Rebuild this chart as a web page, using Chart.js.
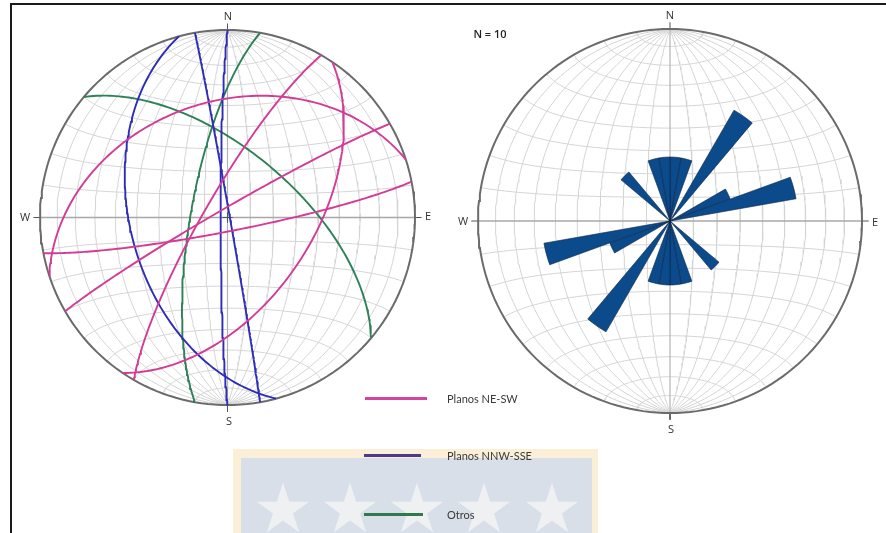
<!DOCTYPE html>
<html>
<head>
<meta charset="utf-8">
<script src="https://cdn.jsdelivr.net/npm/chart.js@4.4.0/dist/chart.umd.min.js"></script>
<style>
    body { margin: 0; width: 886px; height: 533px; overflow: hidden; background: #ffffff; position: relative; font-family: "Open Sans", "DejaVu Sans", sans-serif; }
    canvas, .abs { position: absolute; }
    #marco { left: 10px; top: 3px; width: 900px; height: 560px; border: 2px solid #1a1a1a; }
    #sello { left: 233px; top: 449px; width: 365px; height: 90px; background: #fcefd8; }
    #selloInt { left: 8px; top: 9px; width: 351px; height: 90px; background: #d8dfe8; }
    .estrella { top: 17px; font-size: 68px; line-height: 68px; color: #eef0f2; transform: translateX(-50%); font-family: "DejaVu Sans"; }
    .etq { font-size: 11px; color: #333; transform: translate(-50%, -50%); }
    .leyLinea { height: 3px; }
    .leyTexto { font-family: Lato, "Open Sans", sans-serif; font-size: 11px; color: #3a3a3a; transform: translateY(-50%); }
</style>
</head>
<body>
<div id="marco" class="abs"></div>

<div id="sello" class="abs">
    <div id="selloInt" class="abs">
        <span class="abs estrella" style="left:42px">★</span>
        <span class="abs estrella" style="left:109px">★</span>
        <span class="abs estrella" style="left:176px">★</span>
        <span class="abs estrella" style="left:243px">★</span>
        <span class="abs estrella" style="left:311px">★</span>
    </div>
</div>

<canvas id="redPlanos" width="399" height="399" style="left:28px; top:18px"></canvas>
<canvas id="redRosa" width="408" height="408" style="left:466px; top:17px"></canvas>
<canvas id="rosa" width="384" height="384" style="left:478px; top:29px"></canvas>

<span class="abs etq" style="left:228px; top:15px">N</span>
<span class="abs etq" style="left:229px; top:420px">S</span>
<span class="abs etq" style="left:25px; top:216px">W</span>
<span class="abs etq" style="left:428px; top:215px">E</span>

<span class="abs etq" style="left:670px; top:14px">N</span>
<span class="abs etq" style="left:671px; top:428px">S</span>
<span class="abs etq" style="left:463px; top:220px">W</span>
<span class="abs etq" style="left:875px; top:221px">E</span>
<span class="abs etq" style="left:490px; top:33px; font-size:11px; font-weight:600; color:#222">N = 10</span>

<div class="abs leyLinea" style="left:365px; top:397px; width:62px; background:#d4449e"></div>
<span class="abs leyTexto" style="left:447px; top:398px">Planos NE-SW</span>
<div class="abs leyLinea" style="left:364px; top:454px; width:57px; background:#4b3b8c"></div>
<span class="abs leyTexto" style="left:447px; top:455px">Planos NNW-SSE</span>
<div class="abs leyLinea" style="left:364px; top:513px; width:59px; background:#2f7a4c"></div>
<span class="abs leyTexto" style="left:447px; top:514px">Otros</span>

<script>
// Planos medidos (rumbo con regla de la mano derecha, buzamiento)
let rumbos = [252, 210, 79, 240, 34, 180, 350, 165, 190, 310];
let buzamientos = [38, 80, 84, 86, 53, 87, 89, 47, 74, 61];
let familias = ['NE-SW', 'NE-SW', 'NE-SW', 'NE-SW', 'NE-SW', 'NNW-SSE', 'NNW-SSE', 'NNW-SSE', 'Otros', 'Otros'];

// Diagrama de rosas: conteo por intervalo de 10° (0-10, 10-20, ... 350-360)
let conteoRosa = [1, 1, 0, 2, 0, 0, 1, 2, 0, 0, 0, 0, 0, 1, 0, 0, 1, 1,
                  1, 1, 0, 2, 0, 0, 1, 2, 0, 0, 0, 0, 0, 1, 0, 0, 1, 1];
let maxRosa = 3;

let coloresFamilia = { 'NE-SW': '#d23c96', 'NNW-SSE': '#2d2db8', 'Otros': '#2e8058' };

// proyección de igual área (Schmidt), hemisferio inferior, primitivo de radio 1
function proyectar(e, n, d) {
    if (d < 0) { e = -e; n = -n; d = -d; }
    let k = Math.sqrt(1 / (1 + d));
    return { x: e * k, y: n * k };
}

function circuloMayor(rumbo, buz) {
    let s = rumbo * Math.PI / 180;
    let b = buz * Math.PI / 180;
    let dd = s + Math.PI / 2;
    let puntos = [];
    for (let i = 0; i <= 120; i++) {
        let a = Math.PI * i / 120;
        let e = Math.cos(a) * Math.sin(s) + Math.sin(a) * Math.cos(b) * Math.sin(dd);
        let n = Math.cos(a) * Math.cos(s) + Math.sin(a) * Math.cos(b) * Math.cos(dd);
        let d = Math.sin(a) * Math.sin(b);
        puntos.push(proyectar(e, n, d));
    }
    return puntos;
}

// círculo menor alrededor del eje N-S
function circuloMenor(beta) {
    let b = beta * Math.PI / 180;
    let puntos = [];
    for (let i = 0; i <= 120; i++) {
        let f = Math.PI * i / 120;
        puntos.push(proyectar(Math.sin(b) * Math.cos(f), Math.cos(b), Math.sin(b) * Math.sin(f)));
    }
    return puntos;
}

function linea(puntos, color, ancho, orden) {
    return { data: puntos, showLine: true, borderColor: color, borderWidth: ancho, pointRadius: 0, fill: false, order: orden, clip: false };
}

function datosRed() {
    let conjuntos = [];
    for (let g = 10; g <= 80; g += 10) {
        conjuntos.push(linea(circuloMayor(0, g), '#d4d4d4', 1, 5));
        conjuntos.push(linea(circuloMayor(180, g), '#d4d4d4', 1, 5));
    }
    for (let g = 10; g <= 170; g += 10) {
        if (g != 90) conjuntos.push(linea(circuloMenor(g), '#d4d4d4', 1, 5));
    }
    // diámetros N-S y E-W
    conjuntos.push(linea(circuloMayor(0, 90), '#b4b4b4', 1.2, 4));
    conjuntos.push(linea(circuloMenor(90), '#a8a8a8', 1.4, 4));
    // primitivo
    let primitivo = [];
    for (let i = 0; i <= 360; i += 2) {
        primitivo.push({ x: Math.sin(i * Math.PI / 180), y: Math.cos(i * Math.PI / 180) });
    }
    conjuntos.push(linea(primitivo, '#6b6b6b', 2, 3));
    // marcas N, E, S, W
    conjuntos.push(linea([{ x: 0, y: 1 }, { x: 0, y: 1.035 }], '#555', 1, 3));
    conjuntos.push(linea([{ x: 0, y: -1 }, { x: 0, y: -1.035 }], '#555', 1, 3));
    conjuntos.push(linea([{ x: 1, y: 0 }, { x: 1.035, y: 0 }], '#555', 1, 3));
    conjuntos.push(linea([{ x: -1, y: 0 }, { x: -1.035, y: 0 }], '#555', 1, 3));
    return conjuntos;
}

function crearRed(idCanvas, radioPx, margenPx, conjuntos) {
    let lim = (radioPx + margenPx) / radioPx;
    return new Chart(document.getElementById(idCanvas), {
        type: 'scatter',
        data: { datasets: conjuntos },
        options: {
            responsive: false,
            animation: false,
            layout: { padding: 0 },
            scales: {
                x: { display: false, min: -lim, max: lim },
                y: { display: false, min: -lim, max: lim }
            },
            plugins: { legend: { display: false }, tooltip: { enabled: false } },
            elements: { line: { tension: 0 } }
        }
    });
}

// Red con los planos
let conjuntosPlanos = datosRed();
conjuntosPlanos.push(linea([{ x: -0.028, y: 0 }, { x: 0.028, y: 0 }], '#555', 1, 3));
conjuntosPlanos.push(linea([{ x: 0, y: -0.028 }, { x: 0, y: 0.028 }], '#555', 1, 3));
for (let i = 0; i < rumbos.length; i++) {
    conjuntosPlanos.push(linea(circuloMayor(rumbos[i], buzamientos[i]), coloresFamilia[familias[i]], 1.9, 1));
}
crearRed('redPlanos', 187.5, 12, conjuntosPlanos);

// Red de fondo del diagrama de rosas
crearRed('redRosa', 192, 12, datosRed());

// Diagrama de rosas
let etiquetasRosa = conteoRosa.map((c, i) => (i * 10) + '-' + (i * 10 + 10));
new Chart(document.getElementById('rosa'), {
    type: 'polarArea',
    data: {
        labels: etiquetasRosa,
        datasets: [{
            data: conteoRosa,
            backgroundColor: '#0b4a8b',
            borderColor: '#0a2444',
            borderWidth: 0.6
        }]
    },
    options: {
        responsive: false,
        animation: false,
        layout: { padding: 0 },
        scales: {
            r: {
                min: 0,
                max: maxRosa,
                startAngle: 0,
                ticks: { display: false },
                grid: { display: false },
                angleLines: { display: false },
                pointLabels: { display: false }
            }
        },
        plugins: { legend: { display: false }, tooltip: { enabled: false } }
    }
});
</script>
</body>
</html>
